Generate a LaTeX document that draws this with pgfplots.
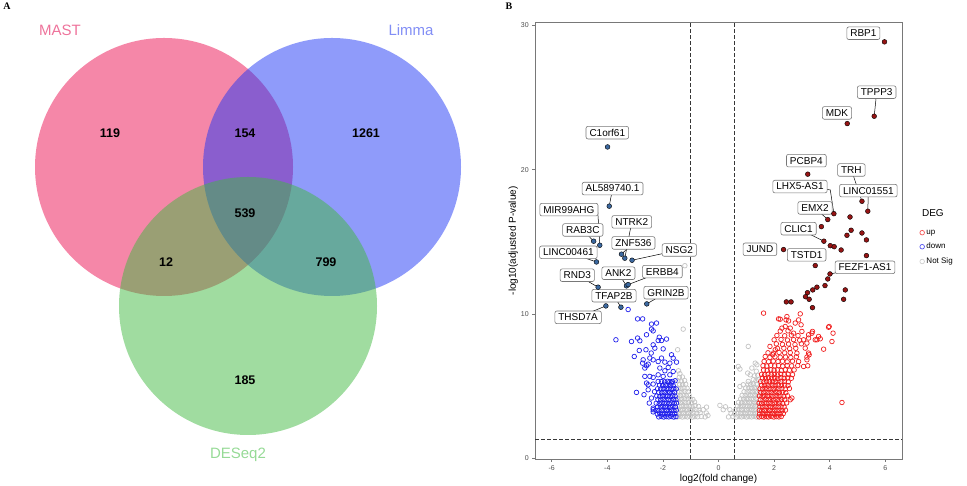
\documentclass[border=0pt]{standalone}
\usepackage{pgfplots}
\pgfplotsset{compat=1.18}
\usepackage{fontspec}
\setmainfont{Liberation Sans}
\newfontfamily\panelfont{Liberation Serif}

% Venn fills (drawn at 50% opacity)
\definecolor{mastc}{RGB}{235,15,81}
\definecolor{limmac}{RGB}{31,55,245}
\definecolor{deseqc}{RGB}{65,185,65}
\definecolor{masttxt}{RGB}{238,115,155}
\definecolor{limmatxt}{RGB}{130,142,245}
\definecolor{deseqtxt}{RGB}{150,218,150}
% volcano
\definecolor{upc}{RGB}{240,30,30}
\definecolor{downc}{RGB}{30,30,235}
\definecolor{nsc}{RGB}{195,195,195}
\definecolor{upfill}{RGB}{150,20,20}
\definecolor{downfill}{RGB}{60,105,160}
\definecolor{framec}{RGB}{120,120,120}
\definecolor{tickc}{RGB}{77,77,77}
\definecolor{dashc}{RGB}{55,55,55}

\pgfplotsset{
  smallmark legend/.style={legend image code/.code={%
    \draw[mark repeat=2,mark phase=2,##1] plot coordinates {(0cm,0cm) (0.15cm,0cm) (0.3cm,0cm)};}},
  hollow/.style={only marks, mark=o, mark size=2.3pt, mark options={line width=0.7pt}},
}
\tikzset{
  gene/.style={draw=framec, fill=white, rounded corners=2pt, line width=0.6pt,
    inner xsep=3.5pt, inner ysep=2.3pt, text height=7.4pt, text depth=0.6pt,
    font=\fontsize{10}{11}\selectfont, text=black},
  lead/.style={black, line width=0.5pt},
}

\begin{document}
\begin{tikzpicture}
\useasboundingbox (0pt,0pt) rectangle (967pt,486pt);

% ---------------- panel A: Venn diagram ----------------
\begin{axis}[at={(0pt,0pt)}, anchor=south west, scale only axis,
  width=480pt, height=486pt, xmin=0, xmax=480, ymin=0, ymax=486,
  hide axis, clip=false]
\fill[mastc, fill opacity=0.5] (axis cs:164,319) circle[radius=129];
\fill[limmac, fill opacity=0.5] (axis cs:332,319) circle[radius=129];
\fill[deseqc, fill opacity=0.5] (axis cs:248,180) circle[radius=129];
\begin{scope}[every node/.style={font=\bfseries\fontsize{12.5}{14}\selectfont}]
\node at (axis cs:110,353) {119};
\node at (axis cs:245,353) {154};
\node at (axis cs:366,353) {1261};
\node at (axis cs:245,273) {539};
\node at (axis cs:166,224) {12};
\node at (axis cs:326,224) {799};
\node at (axis cs:245,106) {185};
\end{scope}
\begin{scope}[every node/.style={font=\fontsize{15}{17}\selectfont}]
\node[text=masttxt] at (axis cs:60,456) {MAST};
\node[text=limmatxt] at (axis cs:411,456) {Limma};
\node[text=deseqtxt] at (axis cs:238,31) {DESeq2};
\end{scope}
\end{axis}
\node[font=\panelfont\bfseries\fontsize{10}{12}\selectfont] at (7pt,479.5pt) {A};
\node[font=\panelfont\bfseries\fontsize{10}{12}\selectfont] at (509pt,480pt) {B};

% ---------------- panel B: volcano plot ----------------
\begin{axis}[at={(535pt,27pt)}, anchor=south west, scale only axis,
  width=367pt, height=436.3pt,
  xmin=-6.6, xmax=6.6, ymin=-0.07, ymax=30.2,
  xtick={-6,-4,-2,0,2,4,6}, ytick={0,10,20,30},
  xtick pos=bottom, ytick pos=left,
  tick align=outside, major tick length=2.75pt,
  axis line style={framec, line width=0.7pt},
  every tick/.style={framec, line width=0.6pt},
  tick label style={font=\fontsize{7}{8}\selectfont, text=tickc},
  /pgf/number format/assume math mode=true,
  xlabel={log2(fold change)}, ylabel={-log10(adjusted P-value)},
  label style={font=\fontsize{10}{12}\selectfont},
  xlabel style={at={(axis description cs:0.5,-0.046)}, anchor=center},
  ylabel style={at={(axis description cs:-0.059,0.5)}, anchor=center},
  clip=false,
  legend style={at={(axis description cs:1.04,0.535)}, anchor=north west,
    draw=none, fill=none, font=\fontsize{8}{9}\selectfont,
    row sep=3.5pt, cells={anchor=west}},
]
\addlegendimage{hollow, color=upc!75, smallmark legend}
\addlegendentry{up}
\addlegendimage{hollow, color=downc!75, smallmark legend}
\addlegendentry{down}
\addlegendimage{hollow, color=nsc!80, smallmark legend}
\addlegendentry{Not Sig}

% threshold lines
\addplot[forget plot, dashc, dash pattern=on 3.5pt off 2.5pt, line width=1pt] coordinates {(-1,-0.07) (-1,30.2)};
\addplot[forget plot, dashc, dash pattern=on 3.5pt off 2.5pt, line width=1pt] coordinates {(0.585,-0.07) (0.585,30.2)};
\addplot[forget plot, dashc, dash pattern=on 3.5pt off 2.5pt, line width=1pt] coordinates {(-6.6,1.3) (6.6,1.3)};

% not significant
\addplot[forget plot, hollow, color=nsc] coordinates {
(-1.48,2.85) (-1.39,2.88) (-1.30,2.84) (-1.21,2.87) (-1.12,2.85) (-1.03,2.89) (-0.94,2.84) (-0.85,2.87) (-0.75,2.86) (-0.62,2.88) (-0.48,2.85) (-0.38,2.95)
(-1.44,3.10) (-1.35,3.08) (-1.26,3.12) (-1.17,3.09) (-1.08,3.11) (-0.99,3.07) (-0.89,3.12) (-0.78,3.10) (-0.66,3.14) (-0.55,3.35) (-0.44,3.12)
(-1.47,3.35) (-1.38,3.33) (-1.29,3.37) (-1.20,3.34) (-1.11,3.36) (-1.01,3.33) (-0.92,3.38) (-0.81,3.35) (-0.70,3.32) (-0.43,3.53)
(-1.42,3.60) (-1.33,3.58) (-1.24,3.62) (-1.15,3.59) (-1.05,3.61) (-0.95,3.57) (-0.84,3.63) (-0.72,3.58)
(-1.46,3.85) (-1.37,3.83) (-1.28,3.87) (-1.18,3.84) (-1.08,3.86) (-0.97,3.82) (-0.86,3.88)
(-1.43,4.10) (-1.33,4.08) (-1.23,4.12) (-1.13,4.09) (-1.02,4.11) (-0.92,4.06)
(-1.47,4.35) (-1.37,4.33) (-1.27,4.37) (-1.16,4.34) (-1.06,4.36)
(-1.42,4.60) (-1.32,4.58) (-1.21,4.62) (-1.10,4.59)
(-1.45,4.85) (-1.35,4.83) (-1.24,4.87) (-1.13,4.84)
(-1.40,5.10) (-1.29,5.08) (-1.18,5.12)
(-1.46,5.35) (-1.34,5.33) (-1.22,5.37)
(-1.41,5.60) (-1.30,5.62) (-1.39,5.85) (-1.44,6.05)
(-1.27,8.94) (-1.47,7.51) (-1.21,13.34)
(0.36,2.85) (0.52,2.88) (0.64,2.84) (0.74,2.87) (0.83,2.85) (0.92,2.88) (1.01,2.84) (1.10,2.87) (1.19,2.85) (1.28,2.88) (1.37,2.84)
(0.45,3.10) (0.58,3.08) (0.69,3.12) (0.79,3.09) (0.88,3.11) (0.97,3.07) (1.06,3.12) (1.15,3.09) (1.24,3.11) (1.33,3.08) (1.42,3.12)
(0.17,3.35) (0.41,3.35) (0.62,3.33) (0.73,3.37) (0.83,3.34) (0.92,3.36) (1.01,3.33) (1.10,3.38) (1.19,3.35) (1.28,3.32) (1.38,3.36)
(0.05,3.65) (0.25,3.55) (0.68,3.60) (0.78,3.58) (0.87,3.62) (0.96,3.59) (1.05,3.61) (1.14,3.57) (1.23,3.63) (1.33,3.58) (1.42,3.61)
(0.72,3.85) (0.83,3.83) (0.93,3.87) (1.02,3.84) (1.11,3.86) (1.20,3.82) (1.29,3.88) (1.39,3.84)
(0.80,4.10) (0.90,4.08) (1.00,4.12) (1.09,4.09) (1.18,4.11) (1.27,4.07) (1.36,4.12)
(0.85,4.35) (0.96,4.33) (1.06,4.37) (1.15,4.34) (1.24,4.36) (1.34,4.32) (1.43,4.37)
(0.92,4.60) (1.03,4.58) (1.13,4.62) (1.22,4.59) (1.32,4.61) (1.41,4.57)
(0.77,4.96) (0.89,5.08) (0.98,4.85) (1.09,4.87) (1.19,4.84) (1.29,4.88) (1.38,4.85)
(1.06,5.12) (1.16,5.10) (1.26,5.14) (1.36,5.11)
(1.07,5.31) (1.25,5.43) (1.35,5.38) (1.44,5.42)
(1.14,5.77) (1.30,5.70) (1.41,5.74)
(1.05,5.89) (1.20,6.24) (1.36,6.02)
(0.71,6.35) (0.77,6.17) (1.32,6.58) (1.38,6.47) (1.07,7.74)
};

% down
\addplot[forget plot, hollow, color=downc] coordinates {
(-2.15,2.85) (-2.06,2.88) (-1.97,2.84) (-1.88,2.87) (-1.79,2.85) (-1.70,2.88) (-1.61,2.84) (-1.53,2.87)
(-2.20,3.05) (-2.11,3.08) (-2.02,3.04) (-1.93,3.07) (-1.84,3.05) (-1.75,3.09) (-1.66,3.04) (-1.57,3.07)
(-2.25,3.30) (-2.15,3.28) (-2.05,3.32) (-1.96,3.29) (-1.87,3.31) (-1.78,3.28) (-1.69,3.33) (-1.60,3.29) (-1.52,3.31)
(-2.19,3.55) (-2.09,3.53) (-2.00,3.57) (-1.91,3.54) (-1.82,3.56) (-1.73,3.52) (-1.64,3.57) (-1.55,3.54)
(-2.24,3.80) (-2.13,3.78) (-2.04,3.82) (-1.95,3.79) (-1.86,3.81) (-1.77,3.77) (-1.68,3.82) (-1.59,3.79) (-1.51,3.81)
(-2.18,4.05) (-2.08,4.03) (-1.99,4.07) (-1.89,4.04) (-1.80,4.06) (-1.71,4.02) (-1.62,4.07) (-1.53,4.04)
(-2.22,4.30) (-2.11,4.28) (-2.01,4.32) (-1.92,4.29) (-1.83,4.31) (-1.74,4.27) (-1.65,4.32) (-1.56,4.29)
(-2.15,4.55) (-2.04,4.53) (-1.95,4.57) (-1.85,4.54) (-1.76,4.56) (-1.67,4.52) (-1.58,4.57)
(-2.19,4.80) (-2.08,4.78) (-1.98,4.82) (-1.88,4.79) (-1.79,4.81) (-1.70,4.77) (-1.61,4.82) (-1.52,4.79)
(-2.12,5.05) (-2.01,5.03) (-1.91,5.07) (-1.82,5.04) (-1.72,5.06) (-1.63,5.02)
(-2.05,5.30) (-1.94,5.28) (-1.84,5.32) (-1.75,5.29) (-1.66,5.31) (-1.56,5.36)
(-2.35,3.20) (-2.35,3.46) (-2.41,4.16) (-2.53,4.73) (-2.95,4.55) (-2.68,4.39) (-2.49,3.81) (-2.35,3.35) (-2.30,4.60)
(-2.59,5.20) (-2.53,5.08) (-2.35,5.13) (-2.17,5.31) (-1.69,5.20)
(-2.65,5.66) (-2.47,5.66) (-2.35,5.59) (-2.17,5.77) (-1.99,5.66) (-1.75,5.77) (-1.63,6.00)
(-2.65,6.24) (-2.11,6.24) (-1.81,6.28) (-1.93,6.05)
(-2.73,6.58) (-2.59,6.40) (-2.53,6.51) (-2.17,6.69) (-1.93,6.65) (-1.75,6.58) (-1.51,6.65)
(-2.42,7.28) (-2.35,6.81) (-2.47,6.93) (-1.69,7.16) (-1.63,6.93) (-2.05,6.93) (-2.71,6.81)
(-2.85,7.46) (-2.61,7.51) (-3.03,7.04) (-2.35,7.85) (-2.29,7.62) (-1.99,7.57)
(-3.69,8.20) (-3.13,8.08) (-2.91,8.32) (-2.83,8.13) (-2.59,8.55) (-2.13,8.38) (-1.87,8.25) (-2.05,8.15) (-2.17,8.15)
(-2.41,8.94) (-2.35,8.82) (-2.41,9.29) (-2.23,9.36)
(-2.91,9.65) (-2.73,9.65) (-3.25,10.30)
};

% up
\addplot[forget plot, hollow, color=upc] coordinates {
(1.46,2.85) (1.55,2.88) (1.63,2.84) (1.72,2.87) (1.80,2.85) (1.90,2.88) (1.99,2.84) (2.08,2.87) (2.17,2.85) (2.26,2.88)
(1.48,3.05) (1.58,3.08) (1.67,3.04) (1.76,3.07) (1.85,3.05) (1.94,3.09) (2.03,3.04) (2.13,3.07) (2.22,3.05) (2.33,3.08)
(1.47,3.30) (1.56,3.28) (1.65,3.32) (1.74,3.29) (1.84,3.31) (1.93,3.28) (2.02,3.33) (2.11,3.29) (2.21,3.31) (2.30,3.28) (2.41,3.32)
(1.49,3.55) (1.59,3.53) (1.68,3.57) (1.78,3.54) (1.87,3.56) (1.96,3.52) (2.06,3.57) (2.15,3.54) (2.25,3.56) (2.36,3.53)
(1.46,3.80) (1.55,3.78) (1.64,3.82) (1.73,3.79) (1.82,3.81) (1.92,3.77) (2.01,3.82) (2.10,3.79) (2.20,3.81) (2.31,3.78) (2.45,3.82)
(1.50,4.05) (1.60,4.03) (1.70,4.07) (1.79,4.04) (1.88,4.06) (1.98,4.02) (2.07,4.07) (2.17,4.04) (2.27,4.06) (2.38,4.03) (2.58,4.04) (2.64,4.16)
(1.47,4.30) (1.57,4.28) (1.66,4.32) (1.76,4.29) (1.85,4.31) (1.95,4.27) (2.04,4.32) (2.14,4.29) (2.24,4.31) (2.35,4.28) (2.48,4.32)
(1.52,4.55) (1.62,4.53) (1.71,4.57) (1.81,4.54) (1.90,4.56) (2.00,4.52) (2.10,4.57) (2.19,4.54) (2.30,4.56) (2.42,4.53)
(1.49,4.80) (1.58,4.78) (1.68,4.82) (1.78,4.79) (1.88,4.81) (1.97,4.77) (2.07,4.82) (2.17,4.79) (2.28,4.81) (2.40,4.78) (2.55,4.82)
(1.55,5.05) (1.65,5.03) (1.75,5.07) (1.85,5.04) (1.95,5.06) (2.05,5.02) (2.15,5.07) (2.26,5.04) (2.38,5.06) (2.50,5.03)
(1.52,5.30) (1.63,5.28) (1.73,5.32) (1.83,5.29) (1.94,5.31) (2.04,5.28) (2.14,5.33) (2.25,5.29) (2.37,5.31) (2.51,5.28)
(1.58,5.55) (1.69,5.53) (1.80,5.57) (1.91,5.54) (2.02,5.56) (2.13,5.52) (2.24,5.57) (2.36,5.54) (2.49,5.56) (2.62,5.53)
(1.55,5.80) (1.66,5.78) (1.78,5.82) (1.90,5.79) (2.01,5.81) (2.12,5.77) (2.24,5.82) (2.37,5.79) (2.50,5.81) (2.66,5.78)
(1.62,6.10) (1.75,6.08) (1.88,6.12) (2.00,6.09) (2.12,6.11) (2.26,6.07) (2.40,6.12) (2.55,6.09) (2.72,6.11)
(1.60,6.40) (1.74,6.38) (1.88,6.42) (2.02,6.39) (2.16,6.41) (2.31,6.37) (2.47,6.42) (2.63,6.39) (2.85,6.41) (3.06,6.35)
(1.64,6.70) (1.80,6.68) (1.97,6.72) (2.14,6.69) (2.30,6.71) (2.47,6.67) (2.66,6.72) (2.88,6.69) (3.21,6.40) (3.18,6.81)
(1.68,7.04) (1.85,6.98) (2.03,7.02) (2.22,6.99) (2.41,7.01) (2.60,6.97) (2.80,7.02) (3.18,7.00)
(1.78,7.30) (1.98,7.28) (2.18,7.32) (2.38,7.29) (2.58,7.31) (2.82,7.27) (3.24,7.28) (3.26,7.16)
(1.85,7.74) (2.12,7.60) (2.35,7.62) (2.56,7.58) (2.78,7.61) (3.12,7.62) (3.78,7.55) (1.95,7.16) (2.04,7.51)
(2.08,7.92) (2.30,7.88) (2.52,7.91) (2.75,7.87) (2.98,7.92) (3.18,7.97)
(2.00,8.20) (2.25,8.22) (2.48,8.18) (2.70,8.21) (2.92,8.17) (3.06,8.20) (3.48,8.20) (3.66,8.27) (3.54,8.20) (4.08,8.08) (3.24,8.32)
(2.10,8.50) (2.38,8.48) (2.62,8.52) (2.86,8.49) (3.24,8.55) (3.60,8.43) (2.70,8.66) (3.36,8.66) (4.12,8.66)
(2.22,8.80) (2.50,8.82) (3.00,8.78) (3.38,8.78)
(2.28,9.01) (2.40,9.12) (2.58,9.01) (2.97,9.24) (3.98,9.12) (3.96,9.07)
(2.16,9.65) (2.22,9.63) (2.43,9.58) (2.46,9.81) (2.52,9.51) (2.76,9.36) (2.88,9.58)
(1.62,10.05) (2.94,10.00)
(4.44,3.85)
};

% leader lines
\draw[lead] (axis cs:-3.81,18.69) -- (axis cs:-3.93,17.47);
\draw[lead] (axis cs:-4.35,17.23) -- (axis cs:-4.32,16.4) -- (axis cs:-4.27,14.76);
\draw[lead] (axis cs:-4.88,15.82) -- (axis cs:-4.49,15.04);
\draw[lead] (axis cs:-5.40,14.27) -- (axis cs:-4.39,13.60);
\draw[lead] (axis cs:-3.12,16.38) -- (axis cs:-3.37,13.86);
\draw[lead] (axis cs:-3.06,14.92) -- (axis cs:-3.49,14.14);
\draw[lead] (axis cs:-1.41,14.43) -- (axis cs:-3.11,13.72);
\draw[lead] (axis cs:-5.08,12.68) -- (axis cs:-4.33,11.85);
\draw[lead] (axis cs:-3.60,12.82) -- (axis cs:-3.31,11.94);
\draw[lead] (axis cs:-2.02,12.93) -- (axis cs:-3.25,12.03);
\draw[lead] (axis cs:-3.76,11.26) -- (axis cs:-3.51,10.46);
\draw[lead] (axis cs:-5.05,9.76) -- (axis cs:-4.05,10.55);
\draw[lead] (axis cs:-1.89,11.47) -- (axis cs:-2.58,10.69);
\draw[lead] (axis cs:5.69,25.38) -- (axis cs:5.60,23.71);
\draw[lead] (axis cs:4.78,19.98) -- (axis cs:5.16,17.81);
\draw[lead] (axis cs:5.39,18.55) -- (axis cs:5.37,17.12);
\draw[lead] (axis cs:2.93,18.83) -- (axis cs:4.02,18.6) -- (axis cs:4.15,16.95);
\draw[lead] (axis cs:3.47,17.35) -- (axis cs:3.93,16.54);
\draw[lead] (axis cs:2.88,15.91) -- (axis cs:3.79,15.04);
\draw[lead] (axis cs:5.27,13.23) -- (axis cs:4.01,12.77);

% labelled genes
\addplot[forget plot, only marks, mark=*, mark size=2.4pt, mark options={fill=downfill, draw=black, line width=0.4pt}] coordinates {
(-3.99,21.58) (-3.93,17.47) (-4.49,15.04) (-4.27,14.76) (-4.39,13.60) (-3.49,14.14) (-3.37,13.86)
(-3.11,13.72) (-4.33,11.85) (-3.31,11.94) (-3.25,12.03) (-4.05,10.55) (-3.51,10.46) (-2.58,10.69)
};
\addplot[forget plot, only marks, mark=*, mark size=2.4pt, mark options={fill=upfill, draw=black, line width=0.4pt}] coordinates {
(5.97,28.87) (5.60,23.71) (4.63,23.20) (3.21,19.69) (5.16,17.81) (5.37,17.12) (4.15,16.95) (3.93,16.54)
(3.79,15.04) (2.34,14.46) (3.48,13.35) (4.01,12.77)
(4.73,16.72) (3.70,16.05) (4.62,15.45) (4.77,15.80) (5.16,15.61) (5.32,15.13) (4.02,14.73) (4.16,14.66)
(4.41,14.43) (5.32,14.04) (3.93,12.42) (3.83,11.96) (3.54,11.85) (3.39,11.66) (3.20,11.47) (4.56,11.66)
(3.13,11.19) (4.50,11.01) (2.44,10.83) (2.61,10.83) (3.26,11.01) (3.38,10.43)
};

\node[gene] at (axis cs:-4.00,22.57) {C1orf61};
\node[gene] at (axis cs:-3.81,18.69) {AL589740.1};
\node[gene] at (axis cs:-5.38,17.23) {MIR99AHG};
\node[gene] at (axis cs:-4.88,15.82) {RAB3C};
\node[gene] at (axis cs:-5.40,14.27) {LINC00461};
\node[gene] at (axis cs:-3.12,16.38) {NTRK2};
\node[gene] at (axis cs:-3.06,14.92) {ZNF536};
\node[gene] at (axis cs:-1.41,14.43) {NSG2};
\node[gene] at (axis cs:-5.08,12.68) {RND3};
\node[gene] at (axis cs:-3.60,12.82) {ANK2};
\node[gene] at (axis cs:-2.02,12.93) {ERBB4};
\node[gene] at (axis cs:-3.76,11.26) {TFAP2B};
\node[gene] at (axis cs:-5.05,9.76) {THSD7A};
\node[gene] at (axis cs:-1.89,11.47) {GRIN2B};
\node[gene] at (axis cs:5.21,29.47) {RBP1};
\node[gene] at (axis cs:5.69,25.38) {TPPP3};
\node[gene] at (axis cs:4.26,23.94) {MDK};
\node[gene] at (axis cs:3.16,20.63) {PCBP4};
\node[gene] at (axis cs:4.78,19.98) {TRH};
\node[gene] at (axis cs:2.93,18.83) {LHX5-AS1};
\node[gene] at (axis cs:5.39,18.55) {LINC01551};
\node[gene] at (axis cs:3.47,17.35) {EMX2};
\node[gene] at (axis cs:2.88,15.91) {CLIC1};
\node[gene] at (axis cs:1.49,14.48) {JUND};
\node[gene] at (axis cs:3.17,14.09) {TSTD1};
\node[gene] at (axis cs:5.27,13.23) {FEZF1-AS1};

\node[anchor=west, font=\fontsize{10}{12}\selectfont] at (axis description cs:1.045,0.564) {DEG};
\end{axis}
\end{tikzpicture}
\end{document}
